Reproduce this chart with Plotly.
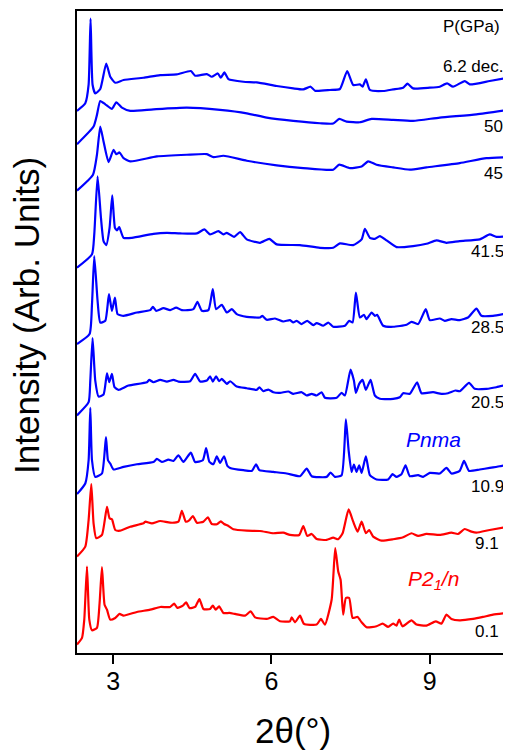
import plotly.graph_objects as go

# 2-theta (deg) and stacked intensity (arb. units)
tt_62dec = [2.315, 2.472, 2.535, 2.572, 2.610, 2.661, 2.756, 2.869, 2.945, 3.040, 3.197, 3.575, 3.891, 4.207, 4.472, 4.553,
            4.775, 4.869, 4.983, 5.040, 5.108, 5.184, 5.467, 5.721, 6.099, 6.413, 6.603, 6.743, 6.824, 7.108, 7.297, 7.435,
            7.549, 7.675, 7.726, 7.789, 7.865, 8.116, 8.305, 8.495, 8.578, 8.684, 9.000, 9.189, 9.327, 9.441, 9.662, 9.757,
            10.135, 10.481]
i_62dec = [544.2, 551.8, 570.5, 636.8, 570.5, 561.8, 566.2, 591.8, 578.5, 572.5, 575.2, 577.5, 580.2, 580.8, 584.2, 579.5,
           581.2, 578.5, 581.8, 577.5, 582.8, 576.2, 573.5, 572.8, 569.2, 566.8, 565.8, 568.5, 564.5, 565.2, 566.2, 584.2,
           570.2, 570.8, 568.5, 575.8, 565.2, 564.2, 565.8, 567.5, 571.5, 566.8, 567.5, 568.5, 571.8, 568.5, 574.2, 570.8,
           574.2, 577.5]

tt_50 = [2.315, 2.629, 2.693, 2.756, 2.851, 2.977, 3.059, 3.166, 3.324, 3.764, 4.396, 5.026, 5.532, 5.910, 6.413, 6.919,
         7.170, 7.284, 7.424, 7.675, 7.897, 8.305, 8.684, 9.189, 9.883, 10.481]
i_50 = [510.8, 528.5, 540.2, 554.2, 550.8, 546.2, 552.8, 547.5, 544.2, 545.8, 547.5, 545.2, 541.8, 537.5, 534.2, 531.8,
        531.5, 536.2, 533.5, 532.8, 536.2, 535.2, 534.2, 537.5, 540.8, 545.2]

tt_45 = [2.315, 2.618, 2.693, 2.756, 2.818, 2.913, 3.008, 3.059, 3.121, 3.197, 3.324, 3.829, 4.396, 4.775, 4.900, 5.089,
         5.532, 6.099, 6.603, 7.170, 7.284, 7.486, 7.708, 7.832, 7.991, 8.305, 8.621, 8.937, 9.567, 10.073, 10.481]
i_45 = [464.2, 480.2, 500.2, 528.5, 513.5, 492.8, 505.2, 500.8, 502.5, 496.8, 493.5, 498.5, 500.2, 500.8, 497.8, 499.2,
        494.2, 489.5, 486.8, 485.2, 490.2, 486.8, 488.5, 493.5, 490.2, 487.5, 485.2, 487.5, 491.8, 496.8, 497.8]

tt_415 = [2.315, 2.599, 2.642, 2.705, 2.769, 2.818, 2.869, 2.932, 2.983, 3.034, 3.072, 3.115, 3.197, 3.356, 3.764, 4.018,
          4.270, 4.586, 4.729, 4.837, 4.994, 5.089, 5.153, 5.291, 5.405, 5.532, 5.783, 5.959, 6.099, 6.540, 6.919, 7.170,
          7.297, 7.549, 7.708, 7.770, 7.865, 7.959, 8.054, 8.181, 8.370, 8.684, 8.937, 9.127, 9.316, 9.567, 9.946, 10.135,
          10.262, 10.481]
i_415 = [386.8, 400.2, 420.2, 478.5, 436.8, 413.5, 409.5, 426.8, 459.5, 426.8, 424.2, 427.5, 416.8, 416.8, 420.8, 421.8,
         421.2, 421.2, 425.2, 420.2, 423.5, 420.2, 421.8, 417.8, 422.5, 415.2, 411.8, 415.8, 410.2, 409.5, 406.8, 406.8,
         411.2, 409.5, 415.2, 425.8, 416.8, 415.8, 418.5, 414.2, 407.5, 408.5, 410.8, 414.2, 411.8, 413.5, 415.2, 420.2,
         417.8, 418.5]

tt_285 = [2.315, 2.553, 2.599, 2.642, 2.705, 2.756, 2.851, 2.921, 2.977, 3.034, 3.083, 3.197, 3.450, 3.702, 3.753, 3.815,
          3.954, 4.080, 4.194, 4.302, 4.521, 4.597, 4.680, 4.805, 4.888, 4.951, 5.059, 5.153, 5.248, 5.342, 5.532, 5.783,
          5.827, 5.910, 6.067, 6.224, 6.351, 6.413, 6.478, 6.572, 6.678, 6.792, 6.856, 6.981, 7.076, 7.170, 7.392, 7.473,
          7.537, 7.600, 7.675, 7.751, 7.802, 7.897, 7.959, 8.003, 8.116, 8.305, 8.559, 8.654, 8.779, 8.924, 9.000, 9.189,
          9.284, 9.410, 9.567, 9.724, 9.884, 9.978, 10.198, 10.481]
i_285 = [310.2, 320.2, 350.2, 398.5, 353.5, 331.8, 333.5, 360.2, 343.5, 356.8, 340.2, 338.5, 341.8, 344.2, 347.5, 343.5,
         346.2, 344.2, 346.8, 344.2, 345.2, 352.5, 343.5, 344.2, 365.2, 345.2, 349.5, 341.8, 345.2, 340.2, 337.5, 336.8,
         338.5, 334.5, 335.8, 332.8, 334.2, 331.8, 333.5, 330.2, 333.5, 329.2, 331.2, 328.5, 331.8, 327.5, 328.5, 333.5,
         331.8, 361.8, 336.8, 339.5, 335.2, 341.8, 338.5, 339.5, 328.5, 327.5, 329.5, 332.5, 330.2, 345.2, 334.2, 335.8,
         333.5, 335.2, 334.2, 336.8, 345.8, 338.5, 338.5, 341.2]

tt_205 = [2.315, 2.535, 2.567, 2.610, 2.661, 2.724, 2.818, 2.883, 2.926, 2.977, 3.026, 3.102, 3.291, 3.640, 3.683, 3.764,
          3.891, 4.018, 4.143, 4.237, 4.459, 4.553, 4.648, 4.775, 4.837, 4.888, 4.951, 5.008, 5.059, 5.153, 5.216, 5.342,
          5.532, 5.721, 5.770, 5.846, 5.940, 6.035, 6.162, 6.319, 6.413, 6.572, 6.667, 6.762, 6.856, 6.951, 7.013, 7.235,
          7.329, 7.392, 7.499, 7.562, 7.600, 7.662, 7.726, 7.789, 7.878, 7.959, 8.054, 8.305, 8.432, 8.495, 8.621, 8.760,
          8.843, 9.062, 9.221, 9.346, 9.486, 9.567, 9.744, 9.851, 10.073, 10.262, 10.481]
i_205 = [238.5, 251.8, 273.5, 316.2, 273.5, 257.5, 259.5, 280.8, 271.8, 280.2, 266.8, 264.2, 268.5, 271.8, 274.2, 271.8,
         274.2, 272.5, 274.2, 272.5, 272.8, 280.2, 272.5, 273.5, 277.8, 272.5, 277.8, 272.8, 275.2, 270.2, 272.8, 267.5,
         265.8, 264.2, 266.8, 262.8, 264.5, 261.8, 261.2, 262.5, 260.2, 261.8, 258.5, 260.2, 258.5, 261.8, 256.2, 256.2,
         261.2, 258.5, 284.5, 273.5, 261.2, 270.2, 274.2, 264.2, 274.2, 258.5, 255.2, 255.2, 256.8, 260.8, 260.2, 271.8,
         260.8, 261.8, 260.2, 260.8, 263.5, 262.8, 271.2, 265.2, 265.2, 266.8, 269.5]

tt_109 = [2.315, 2.472, 2.535, 2.567, 2.599, 2.661, 2.788, 2.864, 2.902, 2.945, 3.008, 3.197, 3.450, 3.764, 3.829, 3.923,
          4.048, 4.143, 4.237, 4.332, 4.472, 4.553, 4.699, 4.762, 4.824, 4.900, 4.964, 5.026, 5.102, 5.165, 5.216, 5.467,
          5.626, 5.708, 5.770, 6.035, 6.288, 6.540, 6.667, 6.762, 7.045, 7.121, 7.202, 7.329, 7.410, 7.462, 7.518, 7.562,
          7.613, 7.662, 7.708, 7.789, 7.865, 7.991, 8.211, 8.294, 8.370, 8.464, 8.540, 8.621, 8.779, 8.873, 9.000, 9.189,
          9.316, 9.410, 9.567, 9.649, 9.744, 9.946, 10.135, 10.324, 10.481]
i_109 = [159.5, 170.2, 193.5, 246.2, 193.5, 176.8, 180.2, 216.8, 193.5, 190.2, 184.2, 186.8, 189.5, 191.8, 194.8, 191.8,
         194.2, 192.8, 198.5, 191.8, 201.2, 191.8, 193.5, 205.8, 191.8, 189.5, 197.5, 190.8, 197.5, 187.8, 185.8, 183.5,
         182.8, 189.5, 183.5, 181.8, 180.2, 177.5, 185.2, 177.5, 176.8, 181.2, 176.8, 178.5, 234.5, 203.5, 181.8, 189.2,
         181.8, 188.5, 180.8, 197.5, 178.5, 174.2, 174.2, 179.5, 176.8, 179.5, 188.5, 177.5, 178.5, 176.8, 180.8, 180.2,
         185.8, 180.2, 182.8, 192.8, 182.8, 184.2, 185.8, 187.5, 189.2]

tt_91 = [2.315, 2.472, 2.535, 2.586, 2.629, 2.680, 2.788, 2.883, 2.932, 2.977, 3.040, 3.134, 3.324, 3.575, 3.607, 3.734,
         3.891, 4.080, 4.237, 4.302, 4.377, 4.446, 4.510, 4.586, 4.710, 4.794, 4.869, 4.964, 5.040, 5.102, 5.184, 5.278,
         5.532, 5.783, 6.035, 6.224, 6.351, 6.527, 6.603, 6.678, 6.762, 6.856, 7.045, 7.170, 7.265, 7.348, 7.462, 7.549,
         7.632, 7.708, 7.789, 7.851, 7.927, 8.086, 8.305, 8.495, 8.654, 8.779, 8.937, 9.189, 9.410, 9.535, 9.662, 9.789,
         9.884, 10.135, 10.481]
i_91 = [96.8, 106.8, 133.5, 169.5, 130.2, 115.2, 118.5, 146.8, 135.2, 134.2, 123.5, 122.8, 126.8, 130.2, 131.8, 130.2,
        132.5, 130.8, 131.8, 142.8, 131.8, 133.5, 137.5, 130.8, 131.8, 136.2, 129.5, 129.2, 132.2, 129.5, 127.5, 124.2,
        122.8, 122.5, 120.2, 120.8, 118.5, 118.5, 127.5, 117.5, 119.5, 114.5, 113.5, 115.8, 114.2, 120.2, 144.2, 131.8,
        121.8, 131.8, 120.2, 123.5, 116.8, 112.8, 114.2, 116.2, 120.2, 117.5, 119.5, 118.5, 120.8, 119.5, 124.5, 121.8,
        120.8, 123.5, 126.8]

tt_01 = [2.315, 2.410, 2.453, 2.504, 2.548, 2.599, 2.693, 2.743, 2.788, 2.837, 2.883, 2.945, 3.040, 3.121, 3.197, 3.450,
         3.702, 3.891, 4.080, 4.156, 4.218, 4.321, 4.383, 4.446, 4.553, 4.635, 4.710, 4.837, 4.888, 4.945, 5.008, 5.089,
         5.202, 5.310, 5.499, 5.607, 5.689, 5.910, 6.035, 6.162, 6.351, 6.383, 6.446, 6.540, 6.616, 6.856, 6.937, 7.013,
         7.140, 7.208, 7.265, 7.310, 7.359, 7.410, 7.473, 7.537, 7.632, 7.708, 7.802, 7.991, 8.105, 8.211, 8.305, 8.370,
         8.419, 8.483, 8.654, 8.748, 8.937, 9.113, 9.221, 9.316, 9.410, 9.567, 9.819, 10.008, 10.198, 10.481]
i_01 = [8.5, 15.2, 33.5, 86.8, 33.5, 22.8, 25.2, 50.2, 86.2, 48.5, 43.5, 33.5, 35.2, 39.2, 37.5, 41.2,
        43.5, 46.2, 46.2, 49.5, 45.2, 47.5, 50.8, 45.2, 46.2, 54.2, 44.2, 44.2, 47.5, 43.5, 46.8, 40.2,
        40.2, 39.2, 37.5, 41.8, 35.8, 34.2, 36.2, 31.8, 31.8, 35.8, 30.8, 37.5, 29.2, 28.5, 34.2, 28.5,
        53.5, 105.2, 81.8, 73.5, 38.5, 55.2, 55.2, 35.2, 36.2, 30.8, 25.8, 26.8, 29.5, 26.2, 29.5, 27.5,
        33.5, 26.8, 32.8, 28.5, 27.5, 31.8, 29.5, 38.5, 34.2, 32.8, 34.2, 36.2, 38.5, 40.2]

pressures = ["6.2 dec.", "50", "45", "41.5", "28.5", "20.5", "10.9", "9.1", "0.1"]
label_levels = [588.5, 528.5, 481.8, 403.5, 326.8, 251.8, 166.8, 110.2, 21.8]
phase_names = ["<i>Pnma</i>", "<i>P2<sub>1</sub>/n</i>"]
phase_levels = [214.2, 73.5]

x_sets = [tt_62dec, tt_50, tt_45, tt_415, tt_285, tt_205, tt_109, tt_91, tt_01]
y_sets = [i_62dec, i_50, i_45, i_415, i_285, i_205, i_109, i_91, i_01]

BLUE = "#0000FF"
RED = "#FF0000"
colors = [BLUE] * 7 + [RED] * 2
FONT = "Arial, Liberation Sans, sans-serif"

fig = go.Figure()
for xs, ys, c, p in zip(x_sets, y_sets, colors, pressures):
    fig.add_trace(go.Scatter(x=xs, y=ys, mode="lines",
                             line=dict(color=c, width=2.2, shape="spline", smoothing=0.5),
                             name=p, showlegend=False, hoverinfo="skip"))

ann = []
ann.append(dict(x=10.362, y=628.5, xref="x", yref="y", text="P(GPa)", showarrow=False,
                xanchor="right", yanchor="middle", font=dict(family=FONT, size=17, color="black")))
label_right = [10.438, 10.419, 10.419, 10.451, 10.451, 10.451, 10.451, 10.356, 10.356]
for p, lv, xr in zip(pressures, label_levels, label_right):
    ann.append(dict(x=xr, y=lv, xref="x", yref="y", text=p, showarrow=False,
                    xanchor="right", yanchor="middle", font=dict(family=FONT, size=17, color="black")))
for name, lv, c in zip(phase_names, phase_levels, [BLUE, RED]):
    ann.append(dict(x=9.062, y=lv, xref="x", yref="y", text=name, showarrow=False,
                    xanchor="center", yanchor="middle", font=dict(family=FONT, size=21, color=c)))
ann.append(dict(x=-0.116, y=0.525, xref="paper", yref="paper", text="Intensity (Arb. Units)",
                textangle=-90, showarrow=False, xanchor="center", yanchor="middle",
                font=dict(family=FONT, size=35, color="black")))
ann.append(dict(x=0.5, y=-0.12, xref="paper", yref="paper", text="2θ(°)",
                showarrow=False, xanchor="center", yanchor="middle",
                font=dict(family=FONT, size=35, color="black")))

# the page body adds an 8 px margin, so the figure is sized to fit the 511x753 window
fig.update_layout(
    width=503, height=745,
    margin=dict(l=69, r=3, t=1, b=100),
    paper_bgcolor="white", plot_bgcolor="white",
    annotations=ann,
    xaxis=dict(range=[2.315, 10.482], tickvals=[3, 6, 9], ticktext=["3", "6", "9"],
               ticks="outside", ticklen=9, tickwidth=2, tickcolor="black",
               ticklabelstandoff=-4,
               showline=True, linewidth=2, linecolor="black", mirror=True,
               showgrid=False, zeroline=False,
               tickfont=dict(family=FONT, size=25, color="black")),
    yaxis=dict(range=[0, 644.5], showticklabels=False, ticks="",
               showline=True, linewidth=2, linecolor="black", mirror=True,
               showgrid=False, zeroline=False),
)

fig.write_html("out.html")
